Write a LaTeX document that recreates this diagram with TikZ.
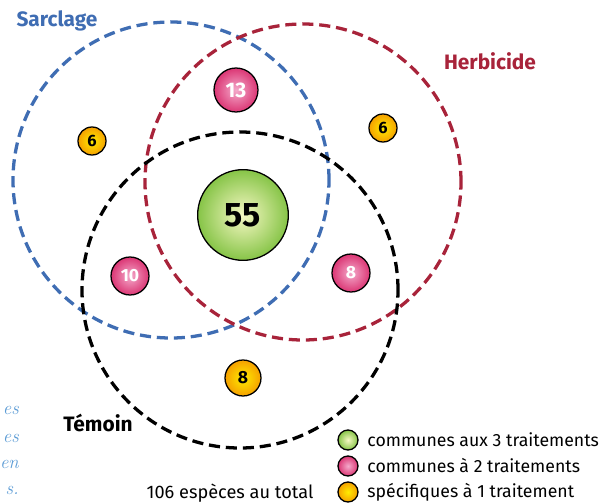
\documentclass[tikz,border=0pt]{standalone}
\usepackage{fontspec}
\setsansfont{Fira Sans}
\usepackage{tikz}

\definecolor{sarclageblue}{HTML}{3F6DB3}
\definecolor{herbicidered}{HTML}{A8233A}
\definecolor{noteblue}{HTML}{5B9BD5}
\definecolor{greenin}{HTML}{F6F8C4}
\definecolor{greenout}{HTML}{86C447}
\definecolor{pinkin}{HTML}{F4AACB}
\definecolor{pinkout}{HTML}{DB3674}
\definecolor{orangein}{HTML}{FFEC00}
\definecolor{orangeout}{HTML}{F5A000}

\tikzset{
  setline/.style={line width=2.8pt, dash pattern=on 9.5pt off 5pt},
  spot/.style={circle, draw, line width=1.1pt, inner sep=0pt, font=\sffamily\bfseries},
  spotgreen/.style={spot, inner color=greenin, outer color=greenout},
  spotpink/.style={spot, inner color=pinkin, outer color=pinkout, text=white},
  spotorange/.style={spot, inner color=orangein, outer color=orangeout},
  setlabel/.style={font=\sffamily\bfseries\fontsize{17.8}{20}\selectfont},
  legendtext/.style={anchor=west, font=\sffamily\fontsize{15.1}{17}\selectfont}
}

\begin{document}
\begin{tikzpicture}[x=0.03cm, y=-0.03cm]

  % Define radius
  \def\R{4.74cm}

  \useasboundingbox (0,0) rectangle (602,503);

  % Set centres
  \coordinate (sarclage) at (171,180);
  \coordinate (herbicide) at (303,182);
  \coordinate (temoin) at (240,290);

  % Sets
  \draw[setline, sarclageblue] (sarclage) circle (\R);
  \draw[setline, herbicidered] (herbicide) circle (\R);
  \draw[setline, black] (temoin) circle (\R);

  % Set labels
  \node[setlabel, text=sarclageblue] (lsarclage) at (57,21) {Sarclage};
  \node[setlabel, text=herbicidered] (lherbicide) at (490,61) {Herbicide};
  \node[setlabel] (ltemoin) at (98,423) {Témoin};

  % Counts
  \node[spotgreen, minimum size=2.72cm, font=\sffamily\bfseries\fontsize{29}{31}\selectfont] (n55) at (243,215) {55};
  \node[spotpink, minimum size=1.32cm, font=\sffamily\bfseries\fontsize{18}{20}\selectfont] (n13) at (236,90) {13};
  \node[spotpink, minimum size=1.14cm, font=\sffamily\bfseries\fontsize{15}{17}\selectfont] (n10) at (130,276) {10};
  \node[spotpink, minimum size=1.14cm, font=\sffamily\bfseries\fontsize{15}{17}\selectfont] (n8h) at (351,273) {8};
  \node[spotorange, minimum size=0.84cm, font=\sffamily\bfseries\fontsize{14}{16}\selectfont] (n6s) at (92,141) {6};
  \node[spotorange, minimum size=0.84cm, font=\sffamily\bfseries\fontsize{14}{16}\selectfont] (n6h) at (383,128) {6};
  \node[spotorange, minimum size=1.08cm, font=\sffamily\bfseries\fontsize{15}{17}\selectfont] (n8t) at (243,378) {8};

  % Total
  \node[font=\sffamily\fontsize{15.5}{17}\selectfont] (total) at (230,493) {106 espèces au total};

  % Legend
  \node[spotgreen, minimum size=0.6cm] (kgreen) at (348,440) {};
  \node[spotpink, minimum size=0.6cm] (kpink) at (348,466) {};
  \node[spotorange, minimum size=0.6cm] (korange) at (348,492) {};
  \node[legendtext] at ([xshift=4pt]kgreen.east) {communes aux 3 traitements};
  \node[legendtext] at ([xshift=4pt]kpink.east) {communes à 2 traitements};
  \node[legendtext] at ([xshift=4pt]korange.east) {spécifiques à 1 traitement};

  % Margin note ends
  \foreach \y/\t in {410/es, 438/es, 464/en, 490/s.}
    \node[anchor=east, inner sep=0pt, text=noteblue, font=\itshape\fontsize{16}{18}\selectfont] at (19,\y) {\t};

\end{tikzpicture}
\end{document}
